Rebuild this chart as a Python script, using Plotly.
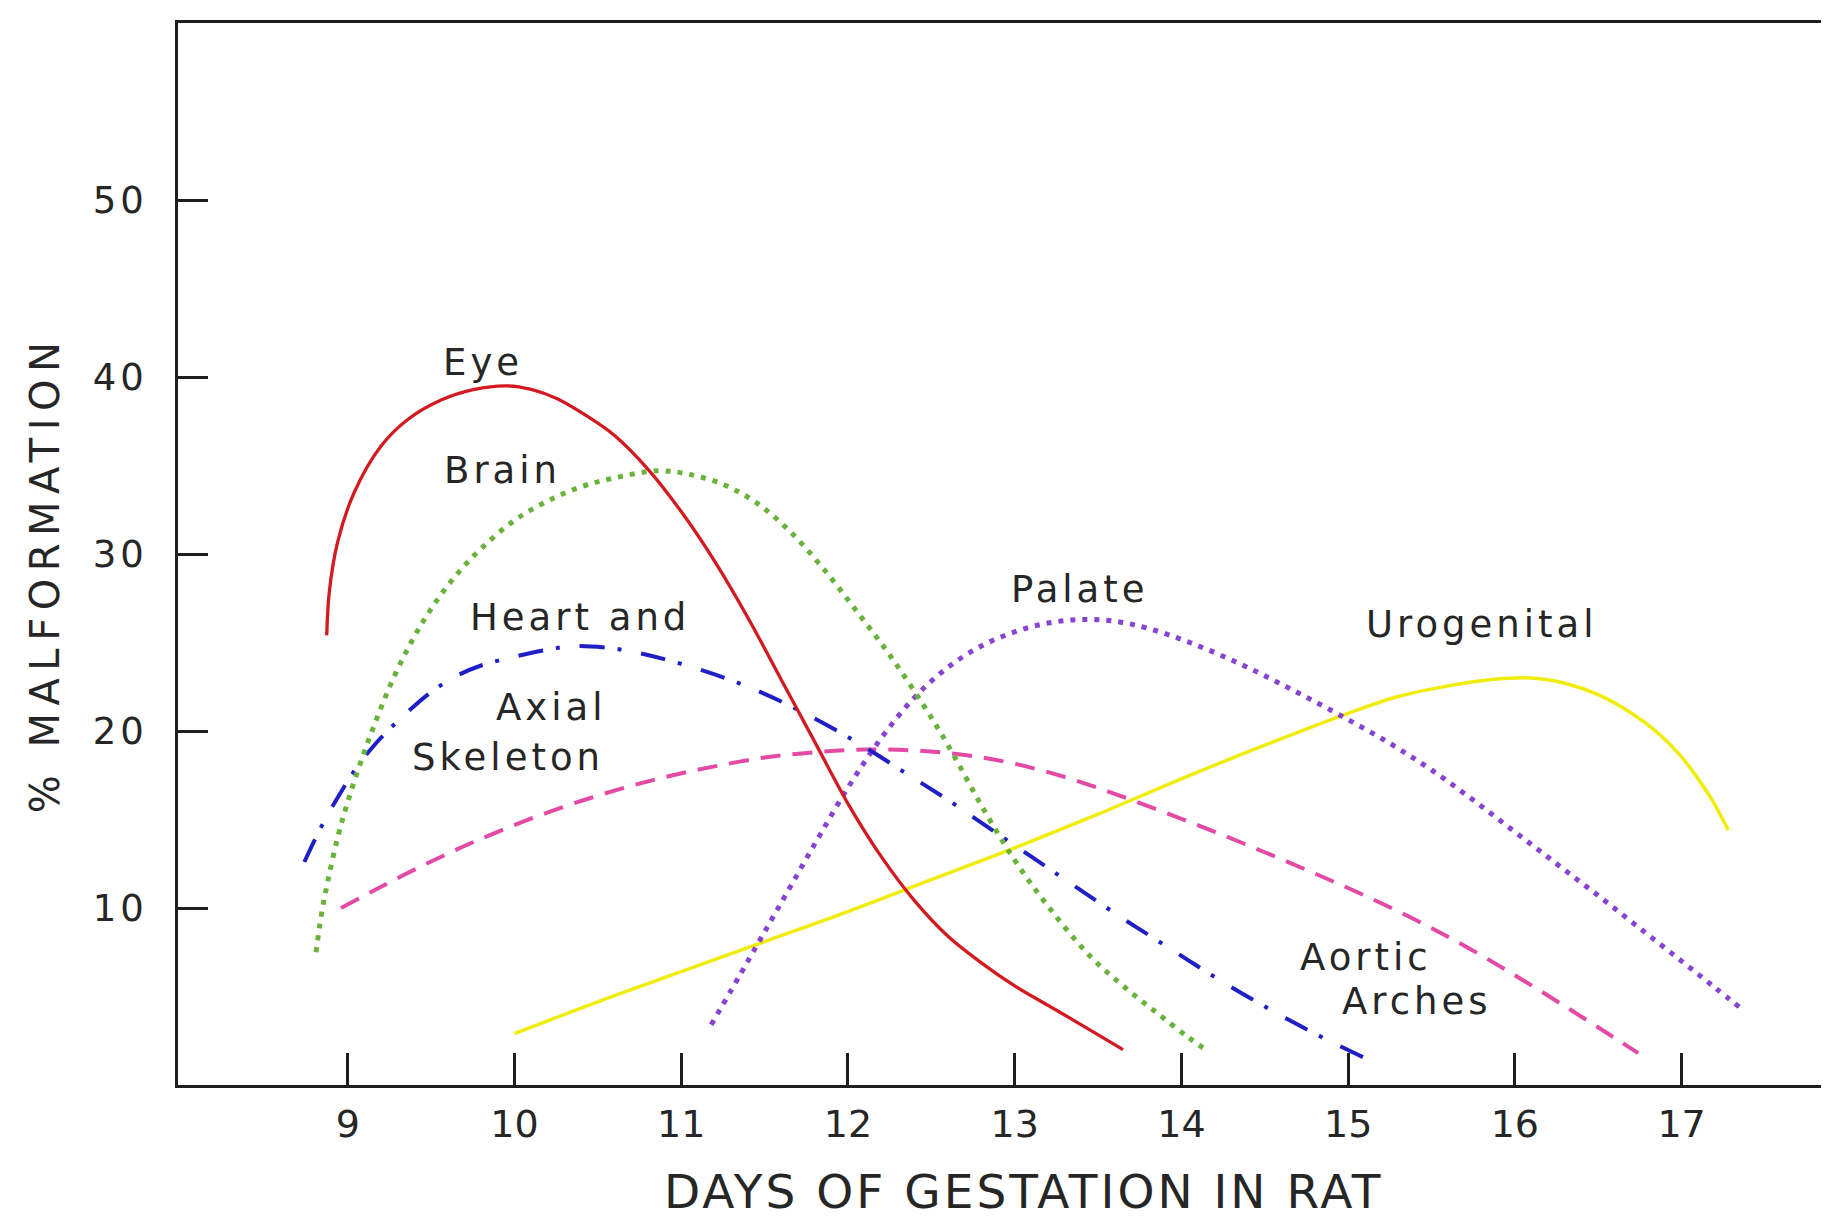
import plotly.graph_objects as go

# ---- data (day of gestation, % malformation) ----
eye_days = [8.874, 8.89, 8.94, 9.04, 9.20, 9.36, 9.56, 9.76, 9.95, 10.1, 10.25, 10.4, 10.6, 10.8,
            11.0, 11.2, 11.4, 11.6, 11.8, 12.0, 12.2, 12.4, 12.6, 12.8, 13.0, 13.2, 13.4, 13.65]
eye_vals = [25.4, 27.9, 30.7, 33.5, 36.1, 37.6, 38.7, 39.3, 39.5, 39.3, 38.8, 38.0, 36.7, 34.8,
            32.4, 29.6, 26.4, 22.9, 19.4, 15.9, 12.9, 10.4, 8.4, 6.9, 5.6, 4.5, 3.4, 2.0]

brain_days = [8.81, 8.84, 8.88, 8.94, 9.0, 9.08, 9.17, 9.27, 9.38, 9.5, 9.65, 9.8, 10.0, 10.2,
              10.4, 10.6, 10.86, 11.05, 11.26, 11.45, 11.65, 11.85, 12.05, 12.25, 12.45, 12.6,
              12.8, 13.0, 13.2, 13.45, 13.65, 13.85, 14.04, 14.16]
brain_vals = [7.5, 9.5, 11.5, 14.0, 16.0, 18.3, 20.6, 22.9, 25.0, 26.9, 28.8, 30.3, 31.9, 33.0,
              33.8, 34.3, 34.7, 34.5, 33.9, 32.9, 31.3, 29.2, 26.8, 24.3, 21.5, 19.2,
              15.8, 12.7, 10.1, 7.3, 5.6, 4.1, 2.7, 1.9]

heart_days = [8.74, 8.8, 8.87, 8.95, 9.05, 9.15, 9.25, 9.35, 9.5, 9.65, 9.8, 10.0, 10.2, 10.36,
              10.56, 10.75, 10.96, 11.26, 11.5, 11.7, 11.9, 12.1, 12.35, 12.6, 12.85, 13.1,
              13.35, 13.65, 13.95, 14.2, 14.45, 14.7, 14.95, 15.15]
heart_vals = [12.6, 13.8, 15.1, 16.4, 17.9, 19.1, 20.1, 21.0, 22.2, 23.1, 23.7, 24.2, 24.6, 24.8,
              24.7, 24.4, 23.9, 23.0, 22.1, 21.2, 20.2, 19.1, 17.6, 16.1, 14.5, 12.9,
              11.3, 9.4, 7.6, 6.1, 4.7, 3.4, 2.2, 1.3]

axial_days = [8.96, 9.2, 9.45, 9.7, 9.95, 10.2, 10.45, 10.7, 10.95, 11.2, 11.5, 11.8, 12.1, 12.4,
              12.7, 13.0, 13.3, 13.6, 13.9, 14.2, 14.5, 14.8, 15.1, 15.4, 15.7, 16.0, 16.3,
              16.55, 16.74]
axial_vals = [10.0, 11.2, 12.4, 13.5, 14.5, 15.4, 16.2, 16.9, 17.5, 18.0, 18.5, 18.8, 18.95, 18.9,
              18.65, 18.15, 17.4, 16.45, 15.4, 14.3, 13.15, 11.95, 10.7, 9.35, 7.85, 6.2, 4.45,
              2.95, 1.8]

palate_days = [11.18, 11.4, 11.6, 11.8, 12.0, 12.2, 12.4, 12.6, 12.8, 13.0, 13.2, 13.4, 13.6,
               13.8, 14.05, 14.35, 14.65, 14.95, 15.25, 15.5, 15.75, 16.0, 16.25, 16.5, 16.75,
               17.0, 17.2, 17.36]
palate_vals = [3.4, 7.0, 10.3, 13.6, 16.8, 19.6, 21.9, 23.6, 24.8, 25.6, 26.1, 26.3, 26.2,
               25.8, 25.0, 23.8, 22.4, 20.9, 19.3, 17.8, 16.1, 14.3, 12.5, 10.7, 8.85,
               7.0, 5.5, 4.3]

uro_days = [10.0, 10.5, 11.0, 11.5, 12.0, 12.5, 13.0, 13.5, 14.0, 14.5, 15.0, 15.3, 15.6, 15.85,
            16.1, 16.3, 16.5, 16.7, 16.85, 16.98, 17.08, 17.18, 17.28]
uro_vals = [2.9, 4.7, 6.4, 8.1, 9.8, 11.6, 13.4, 15.3, 17.3, 19.2, 21.0, 21.95, 22.55, 22.9,
            23.0, 22.7, 22.05, 21.0, 19.95, 18.75, 17.55, 16.15, 14.4]

x_ticks = [9, 10, 11, 12, 13, 14, 15, 16, 17]
x_tick_labels = ["9", "10", "11", "12", "13", "14", "15", "16", "17"]
y_ticks = [10, 20, 30, 40, 50]
y_tick_labels = ["10", "20", "30", "40", "50"]

FONT = "DejaVu Sans"
INK = "#262626"


def spaced(text, px):
    return f'<span style="letter-spacing:{px}px">{text}</span>'


fig = go.Figure()

series = [
    (axial_days, axial_vals, dict(color="#e24aa6", width=4, dash="20px,12px")),
    (uro_days, uro_vals, dict(color="#f0ec0c", width=3.5)),
    (palate_days, palate_vals, dict(color="#8743d2", width=5, dash="5px,7px")),
    (heart_days, heart_vals, dict(color="#1f1fc6", width=4, dash="25px,13px,4px,20px")),
    (brain_days, brain_vals, dict(color="#69b33c", width=5, dash="5px,7px")),
    (eye_days, eye_vals, dict(color="#d31a20", width=3.3)),
]
for xs, ys, line in series:
    fig.add_trace(go.Scatter(x=xs, y=ys, mode="lines", line=dict(shape="spline", smoothing=1.0, **line),
                             hoverinfo="skip", showlegend=False))

labels = [
    ("Eye", 9.81, 40.8),
    ("Brain", 9.93, 34.7),
    ("Heart and", 10.39, 26.4),
    ("Axial", 10.22, 21.3),
    ("Skeleton", 9.96, 18.5),
    ("Palate", 13.39, 28.0),
    ("Urogenital", 15.80, 26.0),
    ("Aortic", 15.11, 7.2),
    ("Arches", 15.41, 4.7),
]
for txt, lx, ly in labels:
    fig.add_annotation(x=lx, y=ly, xref="x", yref="y", text=spaced(txt, 4), showarrow=False,
                       font=dict(family=FONT, size=37, color=INK), xanchor="center", yanchor="middle")

W, H = 1829, 1222
ML, MR, MT, MB = 170, 9, 15, 145


def px_to_paper(px, py):
    return (px - ML) / (W - ML - MR), 1 - (py - MT) / (H - MT - MB)


# axis titles (positions given in page pixels)
ax_, ay_ = px_to_paper(37, 566)
fig.add_annotation(x=ax_, y=ay_, xref="paper", yref="paper", text=spaced("% MALFORMATION", 7.5),
                   showarrow=False, textangle=-90, font=dict(family=FONT, size=40, color=INK),
                   xanchor="center", yanchor="middle")
bx_, by_ = px_to_paper(1017, 1183)
fig.add_annotation(x=bx_, y=by_, xref="paper", yref="paper", text=spaced("DAYS OF GESTATION IN RAT", 3),
                   showarrow=False, font=dict(family=FONT, size=47, color=INK),
                   xanchor="center", yanchor="middle")

axis_common = dict(showgrid=False, zeroline=False, showline=True, linecolor="#1e1e1e", linewidth=2.5,
                   mirror=True, ticks="inside", tickcolor="#1e1e1e", tickwidth=2.5)

fig.update_layout(
    width=W, height=H,
    margin=dict(l=ML, r=MR, t=MT, b=MB),
    paper_bgcolor="white", plot_bgcolor="white",
    showlegend=False, hovermode=False,
    xaxis=dict(range=[7.982, 17.86], tickvals=x_ticks, ticktext=x_tick_labels, ticklen=32,
               tickfont=dict(family=FONT, size=38, color=INK), ticklabelstandoff=4, **axis_common),
    yaxis=dict(range=[0, 60], tickvals=y_ticks, ticktext=[spaced(t, 4) for t in y_tick_labels], ticklen=30,
               tickfont=dict(family=FONT, size=37, color=INK), ticklabelstandoff=20, **axis_common),
)

fig.write_html("out.html")
